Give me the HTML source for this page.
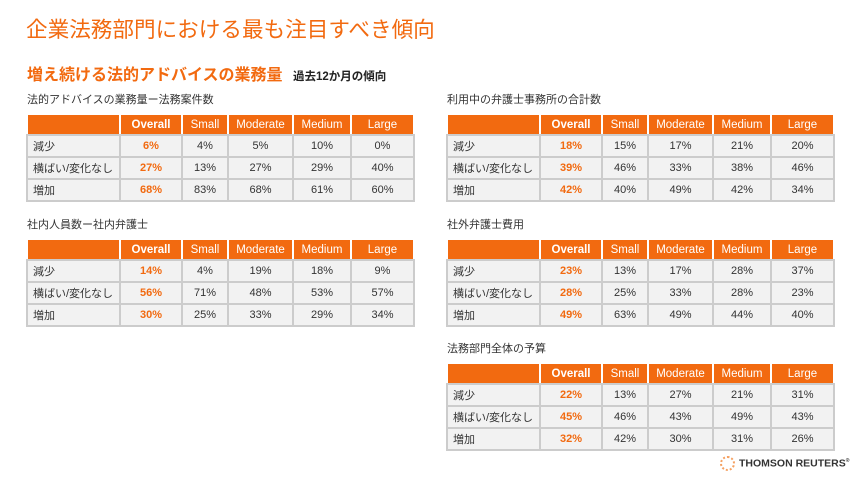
<!DOCTYPE html>
<html><head><meta charset="utf-8"><style>
body{margin:0;width:860px;height:482px;background:#fff;position:relative;overflow:hidden;font-family:"Liberation Sans","Noto Sans CJK JP",sans-serif;}
.abs{position:absolute;white-space:nowrap;}
table{position:absolute;border-collapse:collapse;table-layout:fixed;width:387px;font-size:11px;color:#333;}
td{border:2px solid #ccc;height:20px;padding:0;text-align:center;background:#f2f2f2;overflow:hidden;}
tr.hd td{background:#f26a10;color:#fff;font-size:11.5px;height:19px;border-color:#fff;border-bottom-color:#ccc;}
tr.hd td.ov{font-weight:bold;}
td.lab{text-align:left;padding-left:5px;}
td.ovv{color:#f26a10;font-weight:bold;}
</style></head><body>
<div class="abs" style="left:26px;top:13px;font-size:21.6px;color:#f26a10;">企業法務部門における最も注目すべき傾向</div>
<div class="abs" style="left:27px;top:61px;font-size:16px;font-weight:bold;color:#f26a10;">増え続ける法的アドバイスの業務量 <span style="font-size:11.5px;color:#222;margin-left:6px;">過去12か月の傾向</span></div>
<div id="root"></div>
<div class="abs" style="left:720px;top:456px;font-size:10.5px;font-weight:bold;color:#333;">
<span style="display:inline-block;width:15px;height:15px;border-radius:50%;border:2px dotted #f5a060;box-sizing:border-box;vertical-align:middle;margin-right:4px;"></span>THOMSON REUTERS<sup style="font-size:5px">®</sup></div>
<script>
const columns=["Overall","Small","Moderate","Medium","Large"];
const rowLabels=["減少","横ばい/変化なし","増加"];
const titles=["法的アドバイスの業務量ー法務案件数","社内人員数ー社内弁護士","利用中の弁護士事務所の合計数","社外弁護士費用","法務部門全体の予算"];
const t1=[[6,4,5,10,0],[27,13,27,29,40],[68,83,68,61,60]];
const t2=[[14,4,19,18,9],[56,71,48,53,57],[30,25,33,29,34]];
const t3=[[18,15,17,21,20],[39,46,33,38,46],[42,40,49,42,34]];
const t4=[[23,13,17,28,37],[28,25,33,28,23],[49,63,49,44,40]];
const t5=[[22,13,27,21,31],[45,46,43,49,43],[32,42,30,31,26]];
const tables=[t1,t2,t3,t4,t5];
const pos=[[26,113],[26,238],[446,113],[446,238],[446,362]];
const widths=[93,62,46,65,58,63];
const root=document.getElementById('root');
tables.forEach((data,i)=>{
 const [x,y]=pos[i];
 const cap=document.createElement('div');
 cap.className='abs';cap.style.left=(x+1)+'px';cap.style.top=(y-22)+'px';cap.style.fontSize='11px';cap.style.color='#333';
 cap.textContent=titles[i];
 
 
 root.appendChild(cap);
 const tb=document.createElement('table');
 tb.style.left=x+'px';tb.style.top=y+'px';
 
 
 const cg=document.createElement('colgroup');
 widths.forEach(w=>{const c=document.createElement('col');c.style.width=w+'px';cg.appendChild(c);});
 tb.appendChild(cg);
 const hr=document.createElement('tr');hr.className='hd';
 const e=document.createElement('td');hr.appendChild(e);
 columns.forEach((c,j)=>{const td=document.createElement('td');td.textContent=c;if(j==0)td.className='ov';
  
  
  hr.appendChild(td);});
 tb.appendChild(hr);
 data.forEach((row,r)=>{const tr=document.createElement('tr');
  const l=document.createElement('td');l.className='lab';l.textContent=rowLabels[r];
  
  
  tr.appendChild(l);
  row.forEach((v,j)=>{const td=document.createElement('td');td.textContent=v+'%';if(j==0)td.className='ovv';
   
   
   tr.appendChild(td);});
  tb.appendChild(tr);});
 root.appendChild(tb);
});
</script>
</body></html>
